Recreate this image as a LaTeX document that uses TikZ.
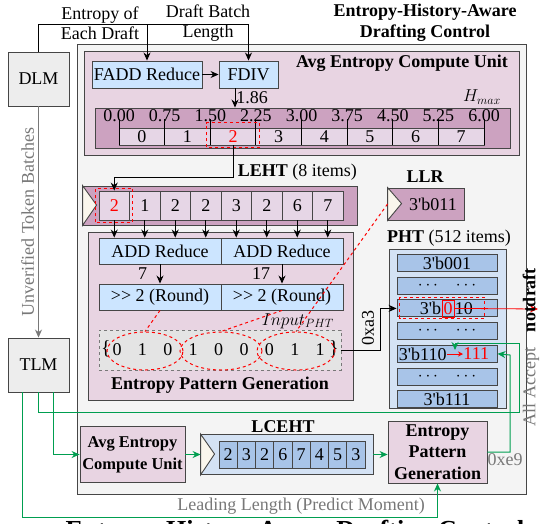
\documentclass[tikz,border=0pt]{standalone}
\usepackage{fontspec}
\setmainfont{Liberation Serif}
\usepackage{tikz}
\usetikzlibrary{arrows.meta,shapes.geometric}
\definecolor{EHPink}{RGB}{232,212,226}
\definecolor{EHPinkDark}{RGB}{204,162,192}
\definecolor{EHBin}{RGB}{230,214,230}
\definecolor{EHBlue}{RGB}{204,229,255}
\definecolor{EHPhtBg}{RGB}{212,226,244}
\definecolor{EHPhtRow}{RGB}{168,196,232}
\definecolor{EHGray}{RGB}{244,244,244}
\definecolor{EHHost}{RGB}{237,237,237}
\definecolor{EHPatBg}{RGB}{228,228,228}
\definecolor{EHCream}{RGB}{250,246,236}
\definecolor{EHGreen}{RGB}{0,158,80}
\definecolor{EHLine}{RGB}{70,70,70}
\definecolor{EHText}{RGB}{120,120,120}
\newcommand{\bq}{3\textquotesingle b}

\begin{document}
\begin{tikzpicture}[x=1pt,y=-1pt,line width=0.9pt,font=\fontsize{18}{20}\selectfont,>={Stealth[length=8pt,width=7pt]},
bx/.style n args={3}{draw=EHLine,fill=#1,minimum width=#2,minimum height=#3,inner sep=0pt,rectangle},
redbox/.style={draw=red,dashed,line width=1pt},
grn/.style={draw=EHGreen,line width=1pt},
lbl/.style={inner sep=0pt,font=\fontsize{18}{20}\selectfont\bfseries},
dots/.style={font=\fontsize{13}{13}\selectfont}]
\useasboundingbox (0,0) rectangle (540,523);
\clip (0,0) rectangle (540,523);
\draw[EHLine,fill=EHGray] (77,44) rectangle (526,494);
\node[align=center] (lEnt) at (100,23) {Entropy of\\Each Draft};
\node[align=center] (lLen) at (208,23) {Draft Batch\\Length};
\node[align=center,font=\fontsize{18}{21}\selectfont\bfseries] (ttl) at (425,23) {Entropy-History-Aware\\Drafting Control};
\node[bx={EHHost}{61}{54}] (dlm) at (38.5,79) {DLM};
\node[bx={EHHost}{61}{54}] (tlm) at (38.5,365) {TLM};
\draw[->,EHText] (dlm) -- (tlm) node[midway,rotate=90,anchor=south,inner sep=4pt,text=EHText] {Unverified Token Batches};
\draw[EHLine,fill=EHPink] (84,51) rectangle (519,155);
\node[lbl] (aecuT) at (402,63) {Avg Entropy Compute Unit};
\node[bx={EHBlue}{110}{27}] (fadd) at (147,74.5) {FADD Reduce};
\node[bx={EHBlue}{59}{27}] (fdiv) at (248.5,74.5) {FDIV};
\coordinate (sp) at (147,24);
\draw[->] (dlm.north) |- (fdiv.north |- sp) -- (fdiv.north);
\draw[->] (sp) -- (fadd.north);
\draw[->] (fadd) -- (fdiv);
\node[bx={EHPinkDark}{415}{40}] (ebar) at (302.5,128) {};
\foreach \i/\c in {0/black,1/black,2/red,3/black,4/black,5/black,6/black,7/black}
   \node[bx={EHBin}{45.625}{17},text=\c] (bin\i) at ({119+45.625*(\i+0.5)},136.5) {\i};
\foreach \i/\1 in {0/0.00,1/0.75,2/1.50,3/2.25,4/3.00,5/3.75,6/4.50,7/5.25,8/6.00} {
   \draw ({119+45.625*\i},119) -- ({119+45.625*\i},145);
   \node[inner sep=0pt] (tk\i) at ({119+45.625*\i},116) {\1};
}
\node (hmax) at (482,97) {$H_{max}$};
\coordinate (fd) at (235,88);
\draw[->] (fd) -- (fd |- ebar.north) node[midway,right,inner sep=1pt] {1.86};
\draw[redbox] ([xshift=-3pt,yshift=-2pt]bin2.south west) rectangle ([xshift=3pt,yshift=5pt]bin2.north east);
\node[anchor=west] (lehtT) at (234,172) {\textbf{LEHT} (8 items)};
\node[bx={EHPinkDark}{274}{39}] (leht) at (220,205.5) {};
\draw[EHLine,fill=EHCream] (leht.north west) -- ++(14,19.5) -- (leht.south west) -- cycle;
\foreach \i/\v in {1/\textcolor{red}{2},2/1,3/2,4/2,5/3,6/2,7/6,8/7}
   \node[bx={EHBin}{30.5}{29}] (l\i) at ({99+30.5*(\i-0.5)},205.5) {\v};
\draw[redbox] ([xshift=-3pt,yshift=-2pt]l1.south west) rectangle ([xshift=3pt,yshift=2pt]l1.north east);
\coordinate (lin) at (114.25,177);
\draw[->] (bin2.south) |- (lin) -- (l1.north);
\draw[EHLine,fill=EHPink] (88,232) rectangle (353,400);
\node[bx={EHBlue}{122}{26}] (add1) at (160,251) {ADD Reduce};
\node[bx={EHBlue}{122}{26}] (add2) at (282,251) {ADD Reduce};
\node[bx={EHBlue}{122}{26}] (sh1) at (160,297) {>{}> 2 (Round)};
\node[bx={EHBlue}{122}{26}] (sh2) at (282,297) {>{}> 2 (Round)};
\foreach \i in {1,...,8}
   \draw[->] (l\i.south) -- (l\i.south |- add1.north);
\draw[->] (add1) -- (sh1) node[midway,left=9pt] {7};
\draw[->] (add2) -- (sh2) node[midway,left=8pt] {17};
\node[draw=EHText,dashed,fill=EHPatBg,minimum width=242,minimum height=40,inner sep=0pt] (pat) at (220,350) {};
\foreach \i/\b in {1/0,2/1,3/0,4/1,5/0,6/0,7/0,8/1,9/1}
   \node[inner sep=0pt] (p\i) at ({117+25.4*(\i-1)},350) {\b};
\node[font=\fontsize{20}{20}\selectfont] (lbr) at (106,349) {\{};
\node[font=\fontsize{20}{20}\selectfont] (rbr) at (334,349) {\}};
\node[ellipse,redbox,minimum width=76,minimum height=38,inner sep=0pt] (e1) at (145,351) {};
\node[ellipse,redbox,minimum width=82,minimum height=38,inner sep=0pt] (e2) at (221,351) {};
\node[ellipse,redbox,minimum width=78,minimum height=38,inner sep=0pt] (e3) at (296,351) {};
\node (inpt) at (298,321) {$Input_{PHT}$};
\node[lbl] (epgT) at (220,385) {Entropy Pattern Generation};
\draw[redbox] (sh1.south) -- (e1.north);
\draw[redbox] (sh2.south) -- (e2.north);
\node[lbl] (llrT) at (425,177) {LLR};
\node[bx={EHPinkDark}{76}{32}] (llr) at (426,204) {};
\draw[EHLine,fill=EHCream] (llr.north west) -- ++(14,16) -- (llr.south west) -- cycle;
\node (llrv) at (433,204) {\bq011};
\draw[redbox,dash pattern=on 3pt off 3pt] (llr.west) -- (e3.north);
\node (phtT) at (449,238) {\textbf{PHT} (512 items)};
\node[bx={EHPhtBg}{117}{159}] (pht) at (447.5,328.5) {};
\foreach \i/\rt in {1/{\bq001},2/{$\cdots$\quad$\cdots$},3/{},4/{$\cdots$\quad$\cdots$},5/{},6/{$\cdots$\quad$\cdots$},7/{\bq111}}
   \node[bx={EHPhtRow}{100}{17}] (r\i) at (447,{263+22.7*(\i-1)}) {\rt};
\node[draw=red,line width=0.8pt,inner sep=1.5pt,text=red,minimum height=17] (r3b) at (448,308.4) {0};
\node[anchor=base east,inner sep=0pt] (r3a) at (r3b.base west) {\bq};
\node[anchor=base west,inner sep=0pt] (r3c) at (r3b.base east) {10};
\draw[redbox] ([xshift=3pt,yshift=2pt]r3.north west) rectangle ([xshift=-13pt,yshift=-1pt]r3.south east);
\coordinate (nd) at (538,309);
\draw[->,red,line width=0.8pt] (r3b.east) -- (nd);
\node[lbl,rotate=90] (ndT) at (529,300) {notdraft};
\node[anchor=east,inner sep=0pt] (r5a) at (447,354) {\bq110};
\node[anchor=west,inner sep=0pt,text=red] (r5b) at (463,354) {111};
\draw[-{Stealth[length=5pt,width=5pt]},red,line width=0.8pt] (r5a) -- (r5b);
\node[rotate=90,text=EHText] (allacc) at (531,387) {All Accept};
\node[bx={EHPink}{105}{56},align=center,font=\fontsize{16.5}{22}\selectfont\bfseries] (aecu2) at (132.5,454.5) {Avg Entropy\\Compute Unit};
\node[lbl] (lcehtT) at (283,427) {LCEHT};
\node[bx={EHPhtBg}{172}{40}] (lceht) at (287,454.5) {};
\draw[EHLine,fill=EHCream] (lceht.north west) -- ++(14,20) -- (lceht.south west) -- cycle;
\foreach \i/\v in {1/2,2/3,3/2,4/6,5/7,6/4,7/5,8/3}
   \node[bx={EHPhtRow}{18.25}{27}] (c\i) at ({219+18.25*(\i-0.5)},454.5) {\v};
\node[bx={EHPink}{99}{62},align=center,font=\fontsize{18}{21.5}\selectfont\bfseries] (epg2) at (437.5,452) {Entropy\\Pattern\\Generation};
\draw[grn,->] (aecu2.east) -- (lceht.west);
\draw[grn,->] (lceht.east) -- (lceht.east -| epg2.west);
\coordinate (acc) at (455,350);
\draw[grn,->] (tlm.south) |- (519,412) |- (455,343) -- (acc);
\draw[grn,->] (epg2.east) -| (510,355) -- (r5.east);
\node[text=EHText] (xe9) at (505,460) {0xe9};
\draw[grn,->] ([xshift=15pt]tlm.south) |- (aecu2.west);
\coordinate (ll) at (437.5,517);
\draw[grn,->] ([xshift=-16pt]tlm.south) |- (ll) -- (epg2.south);
\node[text=EHText] (llT) at (301,506) {Leading Length (Predict Moment)};
\draw[->] (pat.east) -- ++(39,0) |- (r3.west);
\node[rotate=90] (xa3) at (368,328) {0xa3};
\node[anchor=base,font=\fontsize{26}{28}\selectfont\bfseries] (capT) at (295,538) {Entropy-History-Aware Drafting Control};
\end{tikzpicture}
\end{document}
